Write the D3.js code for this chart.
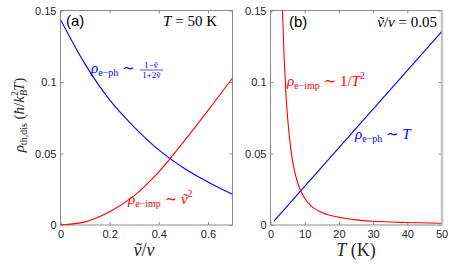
<!DOCTYPE html>
<meta charset="utf-8">
<script src="https://d3js.org/d3.v7.min.js"></script>
<style>
  body { margin: 0; background: #fff; }
</style>
<div id="chart"></div>
<script>
// Panel (a): rho vs v~/v at T = 50 K
const vTilde   = [0, 0.1, 0.2, 0.3, 0.4, 0.5, 0.6, 0.7];
const rhoPhA   = [0.1437, 0.1125, 0.0875, 0.0685, 0.0525, 0.0400, 0.0300, 0.0214];
const rhoImpA  = [0, 0.0022, 0.0092, 0.0205, 0.0372, 0.0580, 0.0800, 0.1028];
// Panel (b): rho vs T at v~/v = 0.05
const tempPh   = [1, 50];
const rhoPhB   = [0.0027, 0.135];
const tempImp  = [3.5, 4, 4.5, 5, 6, 7, 8, 10, 12, 15, 20, 25, 30, 40, 50];
const rhoImpB  = [0.150, 0.117, 0.092, 0.075, 0.052, 0.038, 0.029, 0.0187, 0.013, 0.0088, 0.0054, 0.0036, 0.0026, 0.0017, 0.0012];
// ticks
const yTicks   = [0, 0.05, 0.1, 0.15];
const yLabels  = ["0", "0.05", "0.1", "0.15"];
const xTicksA  = [0, 0.2, 0.4, 0.6];
const xLabelsA = ["0", "0.2", "0.4", "0.6"];
const xTicksB  = [0, 10, 20, 30, 40, 50];
const xLabelsB = ["0", "10", "20", "30", "40", "50"];

const W = 463, H = 270;
const serif = "'Liberation Serif','DejaVu Serif',serif";
const sans = "'Liberation Sans',Arial,sans-serif";
const blue = "#0000ff", red = "#ff0000";

const svg = d3.select("#chart").append("svg")
  .attr("width", W).attr("height", H);

const y = d3.scaleLinear().domain([0, 0.15]).range([225, 10.5]);
const xA = d3.scaleLinear().domain([0, 0.7]).range([60.5, 232.5]);
const xB = d3.scaleLinear().domain([0, 50]).range([270.5, 441.5]);

// write a LaTeX-ish label out of tspans; dy = shift from baseline
function mathText(g, x, yy, parts, color, anchor) {
  const t = g.append("text").attr("x", x).attr("y", yy)
    .attr("fill", color).attr("font-family", serif)
    .attr("text-anchor", anchor || "start");
  let shift = 0;
  parts.forEach(p => {
    const s = t.append("tspan").text(p.t)
      .attr("font-size", p.s || 14)
      .attr("font-style", p.i ? "italic" : "normal");
    const d = (p.dy || 0) - shift;
    if (d) s.attr("dy", d);
    if (p.dx) s.attr("dx", p.dx);
    shift = p.dy || 0;
  });
  return t;
}

function panel(x, xt, xl, id, thickRight) {
  const g = svg.append("g");
  const [x0, x1] = x.range();
  g.append("clipPath").attr("id", id).append("rect")
    .attr("x", x0).attr("y", 10).attr("width", x1 - x0).attr("height", 215);

  const axisCol = "#8a8a8a";
  const styleAxis = sel => {
    sel.select(".domain").remove();
    sel.selectAll(".tick line").attr("stroke", axisCol);
    sel.selectAll(".tick text").attr("fill", "#262626")
      .attr("font-family", sans).attr("font-size", 11);
  };
  g.append("g").attr("transform", `translate(0,${y(0)})`)
    .call(d3.axisBottom(x).tickValues(xt).tickSize(-3).tickPadding(5)
      .tickFormat((d, i) => xl[i]))
    .call(styleAxis);
  g.append("g").attr("transform", `translate(0,${y(0.15)})`)
    .call(d3.axisTop(x).tickValues(xt).tickSize(-3).tickFormat(""))
    .call(styleAxis);
  g.append("g").attr("transform", `translate(${x0},0)`)
    .call(d3.axisLeft(y).tickValues(yTicks).tickSize(-3).tickPadding(4)
      .tickFormat((d, i) => yLabels[i]))
    .call(styleAxis);
  g.append("g").attr("transform", `translate(${x1},0)`)
    .call(d3.axisRight(y).tickValues(yTicks).tickSize(-3).tickFormat(""))
    .call(styleAxis);

  // box
  g.append("rect").attr("x", x0).attr("y", y(0.15))
    .attr("width", x1 - x0).attr("height", y(0) - y(0.15))
    .attr("fill", "none").attr("stroke", axisCol).attr("stroke-width", 1);
  if (thickRight) {
    g.append("line").attr("x1", x1 + 0.5).attr("x2", x1 + 0.5)
      .attr("y1", y(0.15)).attr("y2", y(0))
      .attr("stroke", "#c4c4c4").attr("stroke-width", 2.5);
  }
  return g;
}

function curve(g, x, xs, ys, color, id) {
  const line = d3.line().x((d, i) => x(xs[i])).y(d => y(d))
    .curve(d3.curveMonotoneX);
  g.append("path").datum(ys).attr("d", line)
    .attr("fill", "none").attr("stroke", color).attr("stroke-width", 1.1)
    .attr("clip-path", `url(#${id})`);
}

// ---- panel (a)
const gA = panel(xA, xTicksA, xLabelsA, "clipA", false);
curve(gA, xA, vTilde, rhoPhA, blue, "clipA");
curve(gA, xA, vTilde, rhoImpA, red, "clipA");

gA.append("text").attr("x", 66).attr("y", 26).text("(a)")
  .attr("font-family", sans).attr("font-size", 15).attr("fill", "#000");
mathText(gA, 217, 26, [{t: "T", i: 1, s: 15}, {t: " = 50 K", s: 15}], "#000", "end");

mathText(gA, 91, 73, [
  {t: "ρ", i: 1, s: 15}, {t: "e−ph", s: 10, dy: 3}, {t: " ∼", s: 15}
], blue);
gA.append("text").attr("x", 151).attr("y", 67.5).attr("text-anchor", "middle")
  .attr("font-family", serif).attr("font-size", 9).attr("fill", blue)
  .text("1−ṽ");
gA.append("line").attr("x1", 140).attr("x2", 163).attr("y1", 70).attr("y2", 70)
  .attr("stroke", blue).attr("stroke-width", 0.7);
gA.append("text").attr("x", 151.5).attr("y", 78).attr("text-anchor", "middle")
  .attr("font-family", serif).attr("font-size", 9).attr("fill", blue)
  .text("1+2ṽ");

mathText(gA, 128, 204, [
  {t: "ρ", i: 1, s: 15}, {t: "e−imp", s: 10, dy: 3}, {t: " ∼ ", s: 15},
  {t: "ṽ", i: 1, s: 15}, {t: "2", s: 10, dy: -7}
], red);

mathText(gA, 144, 256, [{t: "ṽ", i: 1, s: 18}, {t: "/", s: 18}, {t: "v", i: 1, s: 18}], "#262626", "middle");

// y label
const gY = svg.append("g").attr("transform", "translate(24,115) rotate(-90)");
mathText(gY, 0, 0, [
  {t: "ρ", i: 1, s: 15}, {t: "th,dis", s: 10, dy: 3}, {t: " (", s: 15},
  {t: "ħ", i: 1, s: 15}, {t: "/", s: 15}, {t: "k", i: 1, s: 15},
  {t: "B", i: 1, s: 10, dy: 3}, {t: "2", s: 10, dy: -6, dx: -6},
  {t: "T", i: 1, s: 15}, {t: ")", s: 15}
], "#262626", "middle");

// ---- panel (b)
const gB = panel(xB, xTicksB, xLabelsB, "clipB", true);
curve(gB, xB, tempPh, rhoPhB, blue, "clipB");
curve(gB, xB, tempImp, rhoImpB, red, "clipB");

gB.append("text").attr("x", 289).attr("y", 27).text("(b)")
  .attr("font-family", sans).attr("font-size", 15).attr("fill", "#000");
mathText(gB, 437, 27, [
  {t: "ṽ", i: 1, s: 15}, {t: "/", s: 15}, {t: "v", i: 1, s: 15}, {t: " = 0.05", s: 15}
], "#000", "end");

mathText(gB, 287, 86, [
  {t: "ρ", i: 1, s: 15}, {t: "e−imp", s: 10, dy: 3}, {t: " ∼ 1/", s: 15},
  {t: "T", i: 1, s: 15}, {t: "2", s: 10, dy: -7}
], red);

mathText(gB, 355, 139, [
  {t: "ρ", i: 1, s: 15}, {t: "e−ph", s: 10, dy: 3}, {t: " ∼ ", s: 15},
  {t: "T", i: 1, s: 15}
], blue);

mathText(gB, 356, 256, [{t: "T", i: 1, s: 18}, {t: " (K)", s: 18}], "#262626", "middle");
</script>
